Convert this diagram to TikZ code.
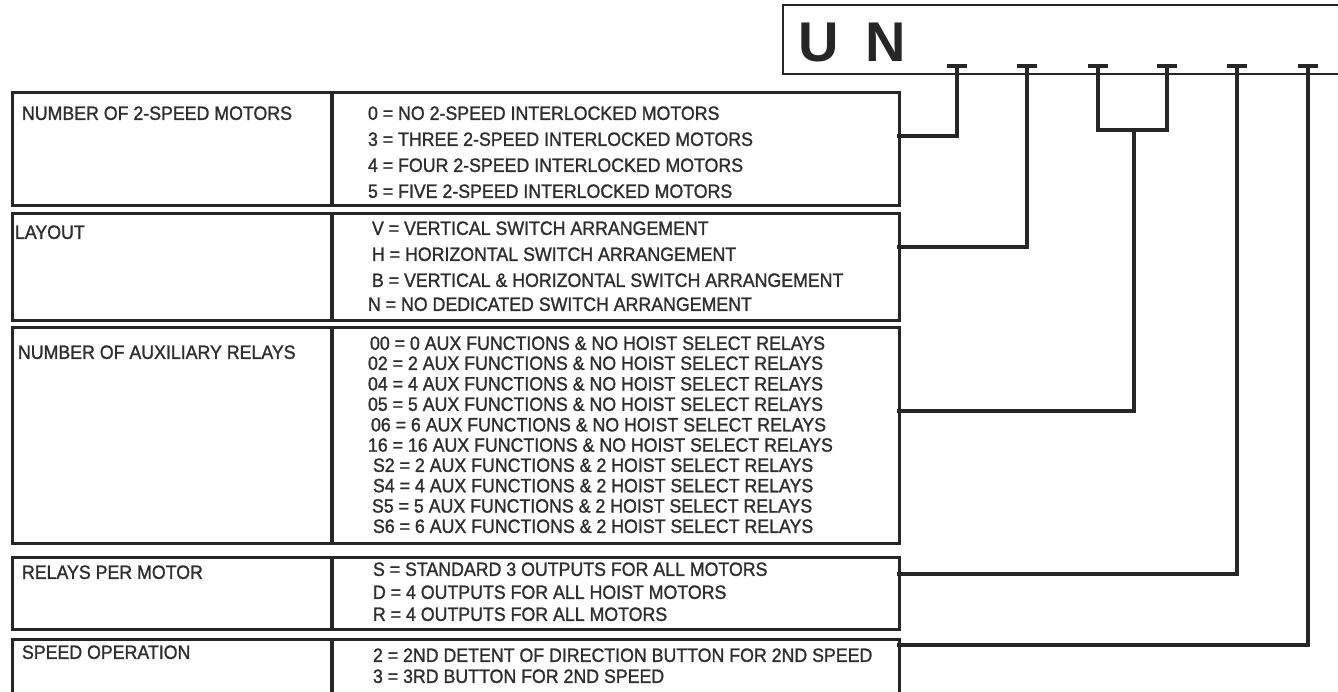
\documentclass[tikz,border=0pt]{standalone}
\usepackage{fontspec}
\newfontfamily\labfont[FakeStretch=0.92,FakeBold=1.3]{Liberation Sans}
\newfontfamily\codefont{Liberation Sans}
\definecolor{ink}{HTML}{262626}
\definecolor{textink}{HTML}{2E2E2E}
\tikzset{
  rowbox/.style={draw=ink, line width=3pt, rectangle, inner sep=0pt, outer sep=0pt,
    anchor=north west, minimum width=887pt},
  divline/.style={draw=ink, line width=3.2pt},
  conn/.style={draw=ink, line width=3.5pt, line cap=rect},
  tbar/.style={draw=ink, line width=4pt},
  lab/.style={font=\labfont\fontsize{19.3}{19.3}\selectfont, text=textink, anchor=west,
    inner sep=0pt, outer sep=0pt, text height=13.8pt, text depth=0pt},
  codeletter/.style={font=\codefont\bfseries\fontsize{56}{56}\selectfont, text=ink,
    inner sep=0pt, text height=40pt, text depth=0pt}
}
\begin{document}
\begin{tikzpicture}[x=1pt,y=-1pt]
\useasboundingbox (0,0) rectangle (1338,692);
\clip (0,0) rectangle (1338,692);
% top code box
\node[draw=ink, line width=2.5pt, rectangle, inner sep=0pt, outer sep=0pt, anchor=north west,
  minimum width=580pt, minimum height=69pt] (code) at (783,5) {};
\node[codeletter] (cu) at (819,42) {U};
\node[codeletter] (cn) at (886,42) {N};
% terminals
\foreach \i/\x in {1/957,2/1027,3/1098,4/1167,5/1237,6/1308}{
  \coordinate (t\i) at (\x,66);
  \draw[tbar] ([xshift=-10pt]t\i) -- ([xshift=10pt]t\i);
}
\coordinate (g) at (1134,130);
% row boxes
\node[rowbox, minimum height=113pt] (r1) at (12,93) {};
\node[rowbox, minimum height=107pt] (r2) at (12,214) {};
\node[rowbox, minimum height=215pt] (r3) at (12,328) {};
\node[rowbox, minimum height=72pt] (r4) at (12,557) {};
\node[rowbox, minimum height=70pt] (r5) at (12,639) {};
\foreach \r in {r1,r2,r3,r4,r5}{
  \draw[divline] ([xshift=320pt]\r.north west) -- ([xshift=320pt]\r.south west);
}
% labels
\node[lab] (l1) at (22,113) {NUMBER OF 2-SPEED MOTORS};
\node[lab] (l2) at (15,232) {LAYOUT};
\node[lab] (l3) at (18,352) {NUMBER OF AUXILIARY RELAYS};
\node[lab] (l4) at (22,572) {RELAYS PER MOTOR};
\node[lab] (l5) at (22,652) {SPEED OPERATION};
% row 1 values
\node[lab] (v1a) at (368,113) {0 = NO 2-SPEED INTERLOCKED MOTORS};
\node[lab] (v1b) at (368,139) {3 = THREE 2-SPEED INTERLOCKED MOTORS};
\node[lab] (v1c) at (368,165) {4 = FOUR 2-SPEED INTERLOCKED MOTORS};
\node[lab] (v1d) at (368,191) {5 = FIVE 2-SPEED INTERLOCKED MOTORS};
% row 2 values
\node[lab] (v2a) at (372,228) {V = VERTICAL SWITCH ARRANGEMENT};
\node[lab] (v2b) at (372,254) {H = HORIZONTAL SWITCH ARRANGEMENT};
\node[lab] (v2c) at (372,280) {B = VERTICAL \& HORIZONTAL SWITCH ARRANGEMENT};
\node[lab] (v2d) at (368,304) {N = NO DEDICATED SWITCH ARRANGEMENT};
% row 3 values
\node[lab] (v3a) at (370,343) {00 = 0 AUX FUNCTIONS \& NO HOIST SELECT RELAYS};
\node[lab] (v3b) at (368,363) {02 = 2 AUX FUNCTIONS \& NO HOIST SELECT RELAYS};
\node[lab] (v3c) at (368,383.6) {04 = 4 AUX FUNCTIONS \& NO HOIST SELECT RELAYS};
\node[lab] (v3d) at (368,404) {05 = 5 AUX FUNCTIONS \& NO HOIST SELECT RELAYS};
\node[lab] (v3e) at (371,424.5) {06 = 6 AUX FUNCTIONS \& NO HOIST SELECT RELAYS};
\node[lab] (v3f) at (368,444.8) {16 = 16 AUX FUNCTIONS \& NO HOIST SELECT RELAYS};
\node[lab] (v3g) at (373,465) {S2 = 2 AUX FUNCTIONS \& 2 HOIST SELECT RELAYS};
\node[lab] (v3h) at (373,485.4) {S4 = 4 AUX FUNCTIONS \& 2 HOIST SELECT RELAYS};
\node[lab] (v3i) at (372,505.7) {S5 = 5 AUX FUNCTIONS \& 2 HOIST SELECT RELAYS};
\node[lab] (v3j) at (373,526) {S6 = 6 AUX FUNCTIONS \& 2 HOIST SELECT RELAYS};
% row 4 values
\node[lab] (v4a) at (373,569) {S = STANDARD 3 OUTPUTS FOR ALL MOTORS};
\node[lab] (v4b) at (373,592) {D = 4 OUTPUTS FOR ALL HOIST MOTORS};
\node[lab] (v4c) at (373,614) {R = 4 OUTPUTS FOR ALL MOTORS};
% row 5 values
\node[lab] (v5a) at (373,655) {2 = 2ND DETENT OF DIRECTION BUTTON FOR 2ND SPEED};
\node[lab] (v5b) at (373,676) {3 = 3RD BUTTON FOR 2ND SPEED};
% connectors
\draw[conn] ([yshift=13.5pt]r1.east) -| (t1);
\draw[conn] ([yshift=20.5pt]r2.east) -| (t2);
\draw[conn] ([yshift=24.5pt]r3.east) -| (g);
\draw[conn] (t3) -- (t3 |- g) -- (t4 |- g) -- (t4);
\draw[conn] ([yshift=19pt]r4.east) -| (t5);
\draw[conn] ([yshift=29pt]r5.east) -| (t6);
\end{tikzpicture}
\end{document}
